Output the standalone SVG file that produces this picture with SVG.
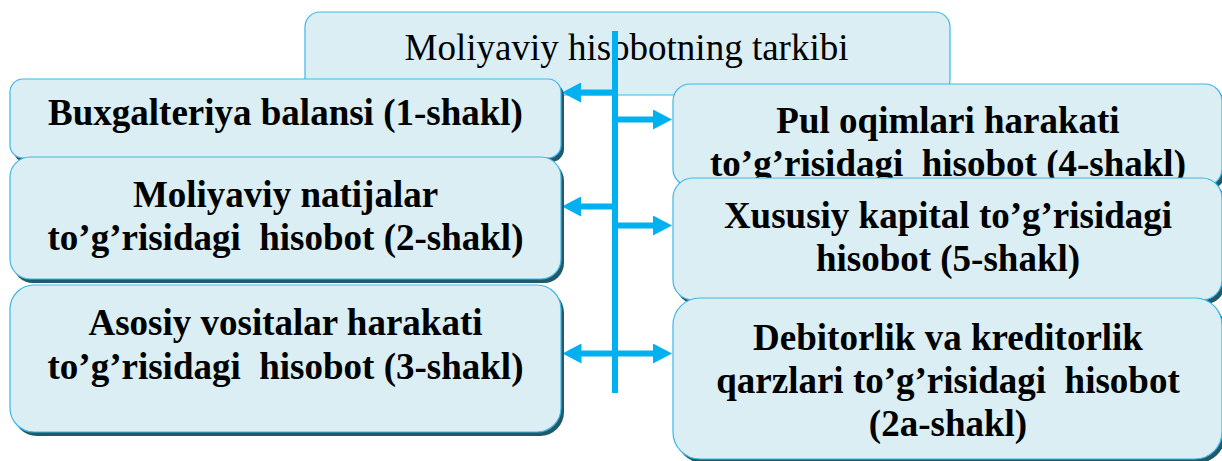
<svg xmlns="http://www.w3.org/2000/svg" width="1222" height="461" viewBox="0 0 1222 461">
  <style>
    .box { fill: #DAEEF3; stroke: #3DB7EA; stroke-width: 1.2; }
    .shadow { fill: #215968; }
    .t { font-family: "Liberation Serif", "Times New Roman", serif; font-size: 37px; fill: #000; text-anchor: middle; }
    .b { font-weight: bold; }
    .conn { stroke: #00B0F0; stroke-width: 6; fill: none; }
  </style>
  <defs>
    <marker id="ah" markerUnits="userSpaceOnUse" markerWidth="20" markerHeight="20" viewBox="0 0 19 20" refX="1" refY="10" orient="auto-start-reverse">
      <path d="M0,0 L19,10 L0,20 z" fill="#00B0F0"/>
    </marker>
  </defs>

  <g id="node-top">
    <rect class="box" x="305" y="12" width="645" height="83" rx="15"/>
    <text class="t" x="626.5" y="60">Moliyaviy hisobotning tarkibi</text>
  </g>

  <g id="connectors">
    <line class="conn" x1="615" y1="31" x2="615" y2="393"/>
    <line class="conn" x1="615" y1="92.5" x2="580" y2="92.5" marker-end="url(#ah)"/>
    <line class="conn" x1="615" y1="119.5" x2="654" y2="119.5" marker-end="url(#ah)"/>
    <line class="conn" x1="615" y1="206.5" x2="580" y2="206.5" marker-end="url(#ah)"/>
    <line class="conn" x1="615" y1="225.5" x2="654" y2="225.5" marker-end="url(#ah)"/>
    <line class="conn" x1="580.5" y1="353.5" x2="654" y2="353.5" marker-start="url(#ah)" marker-end="url(#ah)"/>
  </g>

  <g id="node-1">
    <rect class="shadow" x="13" y="83" width="551" height="79" rx="13"/>
    <rect class="box" x="10" y="79" width="551" height="79" rx="13"/>
    <text class="t b" x="285.5" y="125">Buxgalteriya balansi (1-shakl)</text>
  </g>

  <g id="node-2">
    <rect class="shadow" x="13" y="161" width="551" height="122" rx="20"/>
    <rect class="box" x="10" y="157" width="551" height="122" rx="20"/>
    <text class="t b" x="285.5" y="207">Moliyaviy natijalar</text>
    <text class="t b" x="285.5" y="250" xml:space="preserve">to’g’risidagi  hisobot (2-shakl)</text>
  </g>

  <g id="node-3">
    <rect class="shadow" x="13" y="289" width="551" height="147" rx="24"/>
    <rect class="box" x="10" y="285" width="551" height="147" rx="24"/>
    <text class="t b" x="285.5" y="335">Asosiy vositalar harakati</text>
    <text class="t b" x="285.5" y="379" xml:space="preserve">to’g’risidagi  hisobot (3-shakl)</text>
  </g>

  <g id="node-4">
    <rect class="shadow" x="676" y="88" width="549" height="102" rx="17"/>
    <rect class="box" x="673" y="84" width="549" height="102" rx="17"/>
    <text class="t b" x="948" y="133">Pul oqimlari harakati</text>
    <text class="t b" x="948" y="176" xml:space="preserve">to’g’risidagi  hisobot (4-shakl)</text>
  </g>

  <g id="node-5">
    <rect class="shadow" x="676" y="182" width="549" height="122" rx="20"/>
    <rect class="box" x="673" y="178" width="549" height="122" rx="20"/>
    <text class="t b" x="948" y="228">Xususiy kapital to’g’risidagi</text>
    <text class="t b" x="948" y="271">hisobot (5-shakl)</text>
  </g>

  <g id="node-6">
    <rect class="shadow" x="676" y="302" width="549" height="161" rx="27"/>
    <rect class="box" x="673" y="298" width="549" height="161" rx="27"/>
    <text class="t b" x="948" y="350">Debitorlik va kreditorlik</text>
    <text class="t b" x="948" y="393" xml:space="preserve">qarzlari to’g’risidagi  hisobot</text>
    <text class="t b" x="948" y="436">(2a-shakl)</text>
  </g>
</svg>
